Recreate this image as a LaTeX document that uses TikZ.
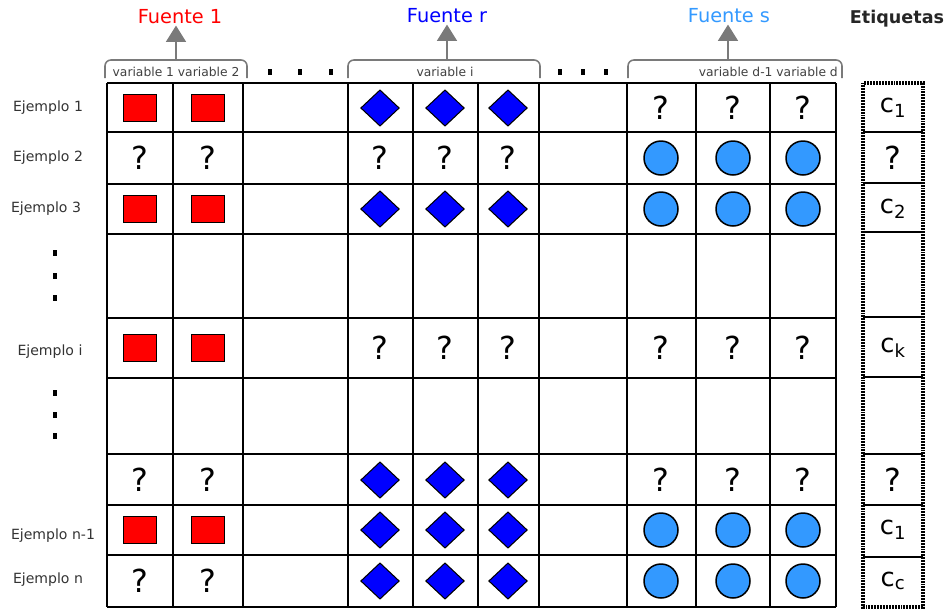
\documentclass[tikz,border=0pt]{standalone}
\usepackage{fontspec}
\setmainfont{DejaVu Sans}
\usetikzlibrary{arrows.meta,shapes.geometric}
\definecolor{rojo}{HTML}{FF0000}
\definecolor{azul}{HTML}{0000FF}
\definecolor{celeste}{HTML}{3399FF}
\definecolor{gris}{HTML}{7A7A7A}

\begin{document}
\begin{tikzpicture}[x=0.03cm,y=-0.03cm,
  rejilla/.style={line width=1.6pt},
  cuad/.style={draw=black,fill=rojo,line width=0.9pt,minimum width=28pt,minimum height=23pt,inner sep=0pt},
  rombo/.style={diamond,draw=black,fill=azul,line width=0.9pt,minimum width=33pt,minimum height=31pt,inner sep=0pt},
  circ/.style={circle,draw=black,fill=celeste,line width=1.3pt,minimum size=29pt,inner sep=0pt},
  preg/.style={font=\fontsize{27}{27}\selectfont,inner sep=0pt},
  ejem/.style={font=\fontsize{12}{14}\selectfont,text=black!80},
  varlab/.style={font=\fontsize{10.5}{12}\selectfont,text=black!75,inner sep=0pt},
  titulo/.style={font=\fontsize{16.5}{18}\selectfont,inner sep=1pt},
  llave/.style={draw=gris,line width=1.3pt,rounded corners=5},
  flecha/.style={draw=gris,line width=1.8pt,-{Triangle[width=17pt,length=14pt]}},
  etiq/.style={font=\fontsize{22}{24}\selectfont,inner sep=0pt}]
\useasboundingbox (0,0) rectangle (945,611);
% columnas y filas
\foreach \c/\x in {1/140,2/208,3/293,4/380,5/445,6/508,7/583,8/661,9/733,10/803}
  \coordinate (col\c) at (\x,0);
\foreach \r/\y in {1/108,2/158,3/209,4/276,5/348,6/416,7/480,8/530,9/581}
  \coordinate (fila\r) at (893,\y);
\foreach \x in {107,173,243,348,413,478,539,627,696,770,836}
  \draw[rejilla] (\x,83) -- (\x,607);
\foreach \y in {83,132,184,234,318,378,454,505,555,607}
  \draw[rejilla] (107,\y) -- (836,\y);
% fuente 1
\foreach \r in {1,3,5,8} \foreach \c in {1,2}
  \node[cuad] (cu\r-\c) at (col\c |- fila\r) {};
\foreach \r in {2,7,9} \foreach \c in {1,2}
  \node[preg] (pr\r-\c) at (col\c |- fila\r) {?};
% fuente r
\foreach \r in {1,3,7,8,9} \foreach \c in {4,5,6}
  \node[rombo] (ro\r-\c) at (col\c |- fila\r) {};
\foreach \r in {2,5} \foreach \c in {4,5,6}
  \node[preg] (pr\r-\c) at (col\c |- fila\r) {?};
% fuente s
\foreach \r in {2,3,8,9} \foreach \c in {8,9,10}
  \node[circ] (ci\r-\c) at (col\c |- fila\r) {};
\foreach \r in {1,5,7} \foreach \c in {8,9,10}
  \node[preg] (pr\r-\c) at (col\c |- fila\r) {?};
% ejemplos
\node[ejem] (ej1) at (48,108) {Ejemplo 1};
\node[ejem] (ej2) at (48,158) {Ejemplo 2};
\node[ejem] (ej3) at (46,209) {Ejemplo 3};
\node[ejem] (eji) at (50,352) {Ejemplo i};
\node[ejem] (ejn1) at (53,536) {Ejemplo n-1};
\node[ejem] (ejn) at (48,580) {Ejemplo n};
\foreach \x/\y in {55/253,55/276,55/298,55/393,55/415,55/436,270/72,300/72,331/72,560/72,583/72,606/72}
  \fill (\x-1.6,\y-2.6) rectangle (\x+1.6,\y+2.6);
% llaves
\draw[llave] (105,78) |- (247,60) -- (247,78);
\draw[llave] (348,78) |- (540,60) -- (540,78);
\draw[llave] (628,78) |- (842,60) -- (842,78);
\coordinate (ll1) at (176,60);
\coordinate (llr) at (447,60);
\coordinate (lls) at (728,60);
\node[varlab] (v12) at (176,72) {variable 1 variable 2};
\node[varlab] (vi) at (445,72) {variable i};
\node[varlab,anchor=east] (vd) at (838,72) {variable d-1 variable d};
\node[titulo,text=rojo] (f1) at (180,17) {Fuente 1};
\node[titulo,text=azul] (fr) at (447,16) {Fuente r};
\node[titulo,text=celeste] (fs) at (729,16) {Fuente s};
\node[titulo,text=black!85,font=\bfseries\fontsize{15}{17}\selectfont] (et) at (897,19) {Etiquetas};
\draw[flecha] (ll1) -- (f1.south -| ll1);
\draw[flecha] (llr) -- (fr.south -| llr);
\draw[flecha] (lls) -- (fs.south -| lls);
% etiquetas
\draw[line width=2.6pt,dash pattern=on 0.7pt off 0.6pt] (863,83) rectangle (923,607);
\foreach \y in {132,183,232,317,377,454,505,557}
  \draw[line width=1.3pt] (863,\y) -- (923,\y);
\node[etiq] (c1) at (fila1) {c\textsubscript{1}};
\node[preg] (c2q) at (fila2) {?};
\node[etiq] (c2) at (fila3) {c\textsubscript{2}};
\node[etiq] (ck) at (fila5) {c\textsubscript{k}};
\node[preg] (c7q) at (fila7) {?};
\node[etiq] (c8) at (fila8) {c\textsubscript{1}};
\node[etiq] (cc) at (fila9) {c\textsubscript{c}};
\end{tikzpicture}
\end{document}
